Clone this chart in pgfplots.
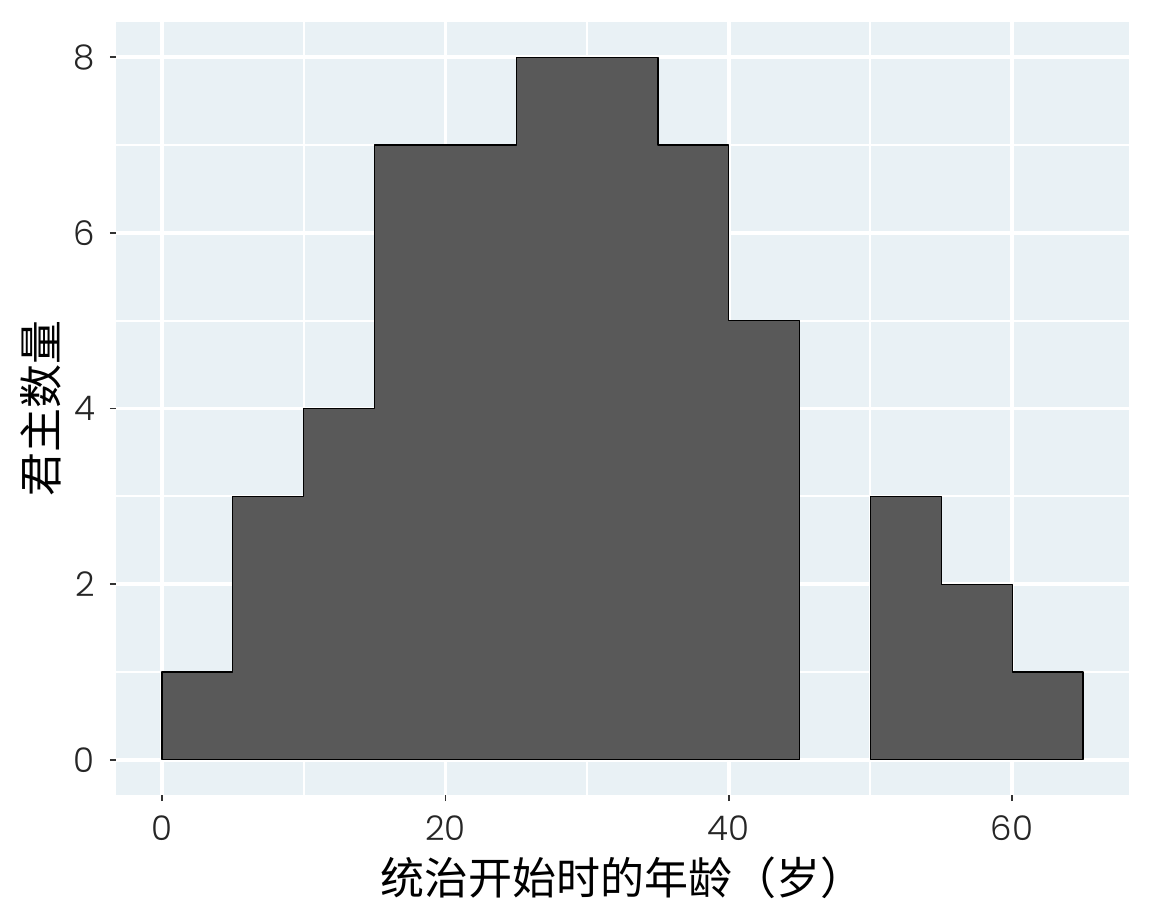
\documentclass[border=0pt]{standalone}
\usepackage{fontspec}
\setmainfont{Poppins Light}
\newfontfamily\cjk{Noto Sans CJK SC}
\usepackage{pgfplots}
\pgfplotsset{compat=1.18}
\definecolor{panelbg}{RGB}{233,241,245}
\definecolor{barfill}{RGB}{89,89,89}

\begin{document}
\begin{tikzpicture}
  \path[use as bounding box] (-58pt,-63.5pt) rectangle (518pt,397.5pt);
  \begin{axis}[
      at={(0,0)}, anchor=south west,
      scale only axis,
      width=506.5pt, height=386.5pt,
      xmin=-3.25, xmax=68.25,
      ymin=-0.4, ymax=8.4,
      xtick={0,20,40,60},
      ytick={0,2,4,6,8},
      minor x tick num=1,
      minor y tick num=1,
      grid=both,
      major grid style={white, line width=1.8pt},
      minor grid style={white, line width=1pt},
      axis background/.style={fill=panelbg},
      axis line style={draw=none},
      tick pos=left,
      tick align=outside,
      major tick length=3pt,
      minor tick length=0pt,
      tick style={color=black!80, line width=0.8pt},
      /pgf/number format/assume math mode=true,
      ticklabel style={font=\fontsize{17}{17}\selectfont, color=black!85},
      xticklabel style={yshift=-4pt},
      yticklabel style={xshift=-4pt},
      xlabel={\cjk 统治开始时的年龄（岁）},
      ylabel={\cjk 君主数量},
      label style={font=\fontsize{22}{22}\selectfont},
      xlabel style={at={(axis description cs:0.5,-0.107)}, anchor=center},
      ylabel style={at={(axis description cs:-0.074,0.5)}, anchor=center},
    ]
    \addplot[const plot, fill=barfill, draw=black, line width=0.6pt, line join=round]
      coordinates {
        (0,1) (5,3) (10,4) (15,7) (20,7) (25,8) (30,8) (35,7) (40,5) (45,5)
      } \closedcycle;
    \addplot[const plot, fill=barfill, draw=black, line width=0.6pt, line join=round]
      coordinates {
        (50,3) (55,2) (60,1) (65,1)
      } \closedcycle;
  \end{axis}
\end{tikzpicture}
\end{document}
